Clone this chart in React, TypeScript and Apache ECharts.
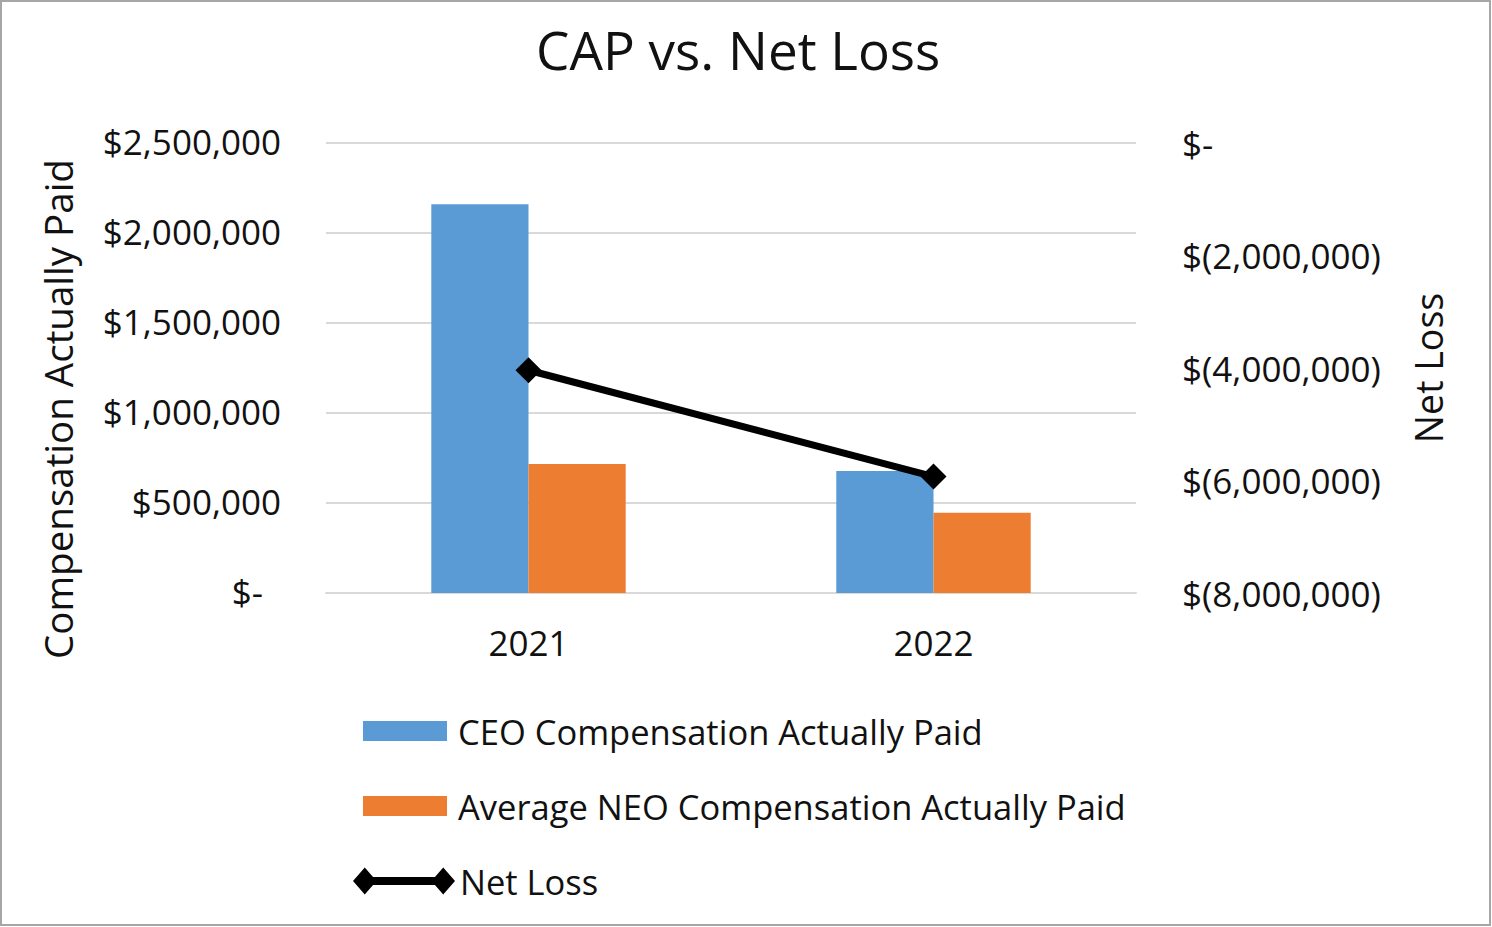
import React, { useEffect, useRef } from "react";
import * as echarts from "echarts";

const categories = ["2021", "2022"];
const ceoCap = [2160000, 678000];
const neoCap = [717000, 446000];
const netLoss = [-4040000, -5930000];
const leftTicks = { min: 0, max: 2500000, interval: 500000 };
const rightTicks = { min: -8000000, max: 0, interval: 2000000 };
const seriesNames = [
  "CEO Compensation Actually Paid",
  "Average NEO Compensation Actually Paid",
  "Net Loss",
];

const FONT = "'Open Sans', sans-serif";
const TXT = "#111";

function fmtNum(v: number): string {
  return Math.abs(v).toLocaleString("en-US");
}

export default function App() {
  const ref = useRef<HTMLDivElement>(null);
  useEffect(() => {
    document.body.style.margin = "0";
    if (!ref.current) return;
    const chart = echarts.init(ref.current, undefined, { renderer: "svg" });
    const lineIcon =
      "path://M0,13.5L12,0L24,13.5L12,27Z M12,9.5L92,9.5L92,17.5L12,17.5Z M80,13.5L92,0L104,13.5L92,27Z";
    const legendText = {
      fontFamily: FONT,
      fontSize: 34.5,
      color: TXT,
      lineHeight: 40,
    };
    chart.setOption({
      animation: false,
      backgroundColor: "#fff",
      title: {
        text: "CAP vs. Net Loss",
        left: 536,
        top: 23,
        padding: 0,
        textStyle: { fontFamily: FONT, fontSize: 53, fontWeight: "normal", color: TXT },
      },
      grid: { left: 326, right: 356, top: 143, bottom: 334, containLabel: false },
      legend: [
        {
          data: [{ name: seriesNames[0], icon: "rect" }],
          orient: "vertical",
          left: 363,
          top: 711,
          padding: 0,
          itemWidth: 84,
          itemHeight: 20,
          textStyle: { ...legendText, padding: [0, 0, 0, 6] },
          selectedMode: false,
        },
        {
          data: [{ name: seriesNames[1], icon: "rect" }],
          orient: "vertical",
          left: 363,
          top: 786,
          padding: 0,
          itemWidth: 84,
          itemHeight: 20,
          textStyle: { ...legendText, padding: [0, 0, 0, 6] },
          selectedMode: false,
        },
        {
          data: [{ name: seriesNames[2], icon: lineIcon, itemStyle: { color: "#000" } }],
          orient: "vertical",
          left: 353,
          top: 861,
          padding: 0,
          itemWidth: 102,
          itemHeight: 27,
          symbolKeepAspect: false,
          textStyle: { ...legendText },
          selectedMode: false,
        },
      ],
      xAxis: {
        type: "category",
        data: categories,
        axisTick: { show: false },
        axisLine: { lineStyle: { color: "#d9d9d9", width: 2 } },
        axisLabel: { fontFamily: FONT, fontSize: 35, color: TXT, margin: 32 },
      },
      yAxis: [
        {
          type: "value",
          min: leftTicks.min,
          max: leftTicks.max,
          interval: leftTicks.interval,
          axisLine: { show: false },
          axisTick: { show: false },
          splitLine: { lineStyle: { color: "#d9d9d9", width: 2 } },
          axisLabel: {
            fontFamily: FONT,
            fontSize: 35,
            color: TXT,
            margin: 45,
            padding: [0, 0, 4, 0],
            formatter: (v: number) => (v === 0 ? "{z|$-}" : "$" + fmtNum(v)),
            rich: {
              z: { fontFamily: FONT, fontSize: 35, color: TXT, padding: [0, 18, 0, 0] },
            },
          },
        },
        {
          type: "value",
          position: "right",
          min: rightTicks.min,
          max: rightTicks.max,
          interval: rightTicks.interval,
          axisLine: { show: false },
          axisTick: { show: false },
          splitLine: { show: false },
          axisLabel: {
            fontFamily: FONT,
            fontSize: 35,
            color: TXT,
            margin: 46,
            padding: [0, 0, 8, 0],
            formatter: (v: number) => (v === 0 ? "$-" : "$(" + fmtNum(v) + ")"),
          },
        },
      ],
      graphic: [
        {
          type: "rect",
          shape: { x: 1, y: 1, width: 1489, height: 924 },
          style: { fill: "none", stroke: "#a6a6a6", lineWidth: 2 },
          silent: true,
        },
        {
          type: "text",
          x: 58,
          y: 409,
          rotation: Math.PI / 2,
          style: {
            text: "Compensation Actually Paid",
            fontFamily: FONT,
            fontSize: 38.5,
            fill: TXT,
            textAlign: "center",
            textVerticalAlign: "middle",
          },
        },
        {
          type: "text",
          x: 1428,
          y: 368,
          rotation: Math.PI / 2,
          style: {
            text: "Net Loss",
            fontFamily: FONT,
            fontSize: 37.5,
            fill: TXT,
            textAlign: "center",
            textVerticalAlign: "middle",
          },
        },
      ],
      series: [
        {
          name: seriesNames[0],
          type: "bar",
          data: ceoCap,
          barWidth: "24%",
          barGap: "0%",
          itemStyle: { color: "#5B9BD5" },
        },
        {
          name: seriesNames[1],
          type: "bar",
          data: neoCap,
          barWidth: "24%",
          barGap: "0%",
          itemStyle: { color: "#ED7D31" },
        },
        {
          name: seriesNames[2],
          type: "line",
          yAxisIndex: 1,
          data: netLoss,
          symbol: "diamond",
          symbolSize: 26,
          lineStyle: { color: "#000", width: 7 },
          itemStyle: { color: "#000" },
          z: 5,
        },
      ],
    });
    return () => chart.dispose();
  }, []);
  return <div ref={ref} style={{ width: 1492, height: 927 }} />;
}
